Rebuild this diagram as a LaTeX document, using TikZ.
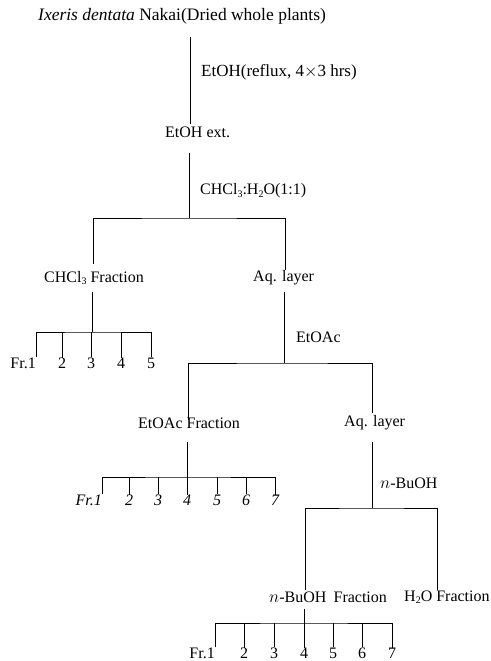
\documentclass[tikz,border=0pt]{standalone}
\usepackage{fontspec}
\setmainfont{Liberation Serif}
\newcommand{\sbs}[1]{\raisebox{-0.3ex}{\fontsize{10}{10}\selectfont #1}}
\begin{document}
\begin{tikzpicture}[x=1pt,y=-1pt,
  txt/.style={inner sep=0pt,anchor=west,font=\fontsize{16}{18}\selectfont},
  num/.style={inner sep=0pt,anchor=center,font=\fontsize{16}{18}\selectfont},
  fr/.style={inner sep=0pt,anchor=east,font=\fontsize{16}{18}\selectfont},
  ln/.style={line width=0.8pt}]
\useasboundingbox (0,0) rectangle (490,661);
% texts
\node[txt,font=\fontsize{17.5}{20}\selectfont] (title) at (38,16) {\textit{Ixeris dentata} Nakai(Dried whole plants)};
\node[txt,font=\fontsize{17}{20}\selectfont] (c1) at (201,72) {EtOH(reflux, 4$\times$3 hrs)};
\node[txt] (ext) at (165,132) {EtOH ext.};
\node[txt] (c2) at (200,191) {CHCl\sbs{3}:H\sbs{2}O(1:1)};
\node[txt] (chcl) at (44,278) {CHCl\sbs{3} Fraction};
\node[txt] (aqa) at (253,278) {Aq. layer};
\node[txt] (c3) at (296,337) {EtOAc};
\node[txt] (etoac) at (138,423) {EtOAc Fraction};
\node[txt] (aqb) at (344,423) {Aq. layer};
\node[txt] (c4) at (380,483) {$n$-BuOH};
\node[txt] (buoh) at (269,597) {$n$-BuOH\hspace{0.45em}Fraction};
\node[txt] (water) at (404,597) {H\sbs{2}O Fraction};
% coordinates
\coordinate (a1) at (190,37); \coordinate (a2) at (190,124);
\coordinate (b1) at (189,153); \coordinate (b2) at (189,218);
\coordinate (bl) at (93,264); \coordinate (br) at (285,270);
\coordinate (c1t) at (92,292); \coordinate (c1b) at (92,332);
\coordinate (d1) at (284,292); \coordinate (d2) at (284,363);
\coordinate (dl) at (188,420); \coordinate (dr) at (372,413);
\coordinate (e1) at (187,442); \coordinate (e2) at (187,477);
\coordinate (f1) at (372,442); \coordinate (f2) at (372,508);
\coordinate (fl) at (305,590); \coordinate (fr) at (437,590);
\coordinate (g1) at (304,609); \coordinate (g2) at (304,623);
% main lines
\draw[ln] (a1) -- (a2);
\draw[ln] (b1) -- (b2);
\draw[ln] (bl) |- (b2) -| (br);
\draw[ln] (c1t) -- (c1b);
\draw[ln] (d1) -- (d2);
\draw[ln] (dl) |- (d2) -| (dr);
\draw[ln] (e1) -- (e2);
\draw[ln] (f1) -- (f2);
\draw[ln] (fl) |- (f2) -| (fr);
\draw[ln] (g1) -- (g2);
% row 1
\node[fr] (r1a) at (36,363) {Fr.1};
\node[num] (r1b) at (62,363) {2};
\node[num] (r1c) at (91,363) {3};
\node[num] (r1d) at (121,363) {4};
\node[num] (r1e) at (151,363) {5};
\draw[ln] (r1a.north east) |- (c1b) -| (r1e.north);
\foreach \n in {r1b,r1c,r1d} \draw[ln] (\n.north) -- (\n.north |- c1b);
% row 2
\begin{scope}[num/.append style={font=\fontsize{16}{18}\selectfont\itshape},fr/.append style={font=\fontsize{16}{18}\selectfont\itshape}]
\node[fr] (r2a) at (102,500) {Fr.1};
\node[num] (r2b) at (129,500) {2};
\node[num] (r2c) at (158,500) {3};
\node[num] (r2d) at (187,500) {4};
\node[num] (r2e) at (217,500) {5};
\node[num] (r2f) at (246,500) {6};
\node[num] (r2g) at (275,500) {7};
\end{scope}
\draw[ln] (r2a.north east) |- (e2) -| (r2g.north);
\foreach \n in {r2b,r2c,r2d,r2e,r2f} \draw[ln] (\n.north) -- (\n.north |- e2);
% row 3
\node[fr] (r3a) at (215,653) {Fr.1};
\node[num] (r3b) at (244,653) {2};
\node[num] (r3c) at (274,653) {3};
\node[num] (r3d) at (304,653) {4};
\node[num] (r3e) at (333,653) {5};
\node[num] (r3f) at (362,653) {6};
\node[num] (r3g) at (392,653) {7};
\draw[ln] (r3a.north east) |- (g2) -| (r3g.north);
\foreach \n in {r3b,r3c,r3d,r3e,r3f} \draw[ln] (\n.north) -- (\n.north |- g2);
\end{tikzpicture}
\end{document}
